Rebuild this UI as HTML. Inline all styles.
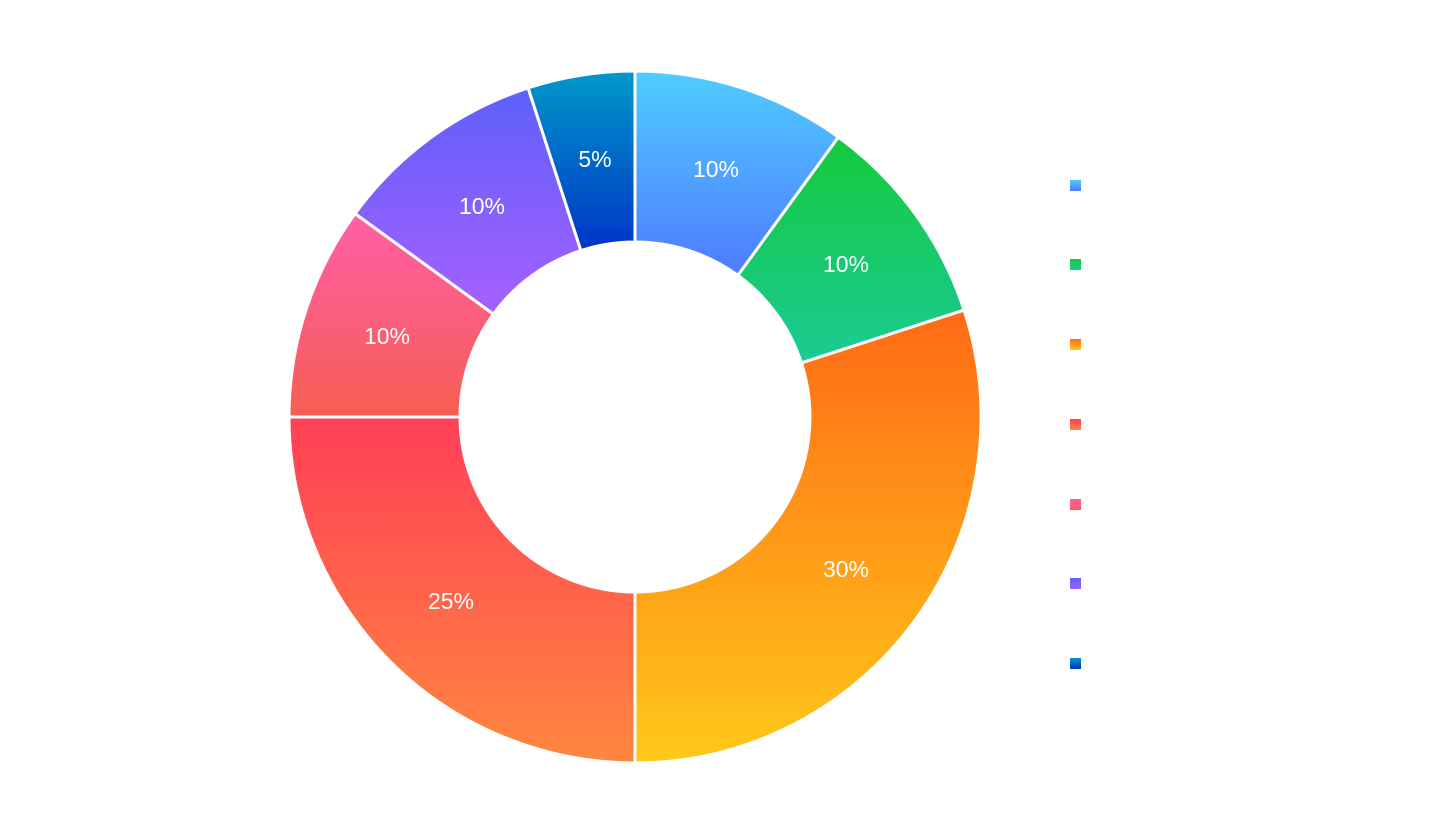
<!DOCTYPE html>
<html><head><meta charset="utf-8"><style>html,body{margin:0;padding:0;background:#fff;}svg{display:block}</style></head>
<body>
<svg width="1450" height="835" xmlns="http://www.w3.org/2000/svg">
<defs>
<linearGradient id="g1" x1="0" y1="0" x2="0" y2="1"><stop offset="0" stop-color="#4fcdff"/><stop offset="1" stop-color="#4f7aff"/></linearGradient>
<linearGradient id="g2" x1="0" y1="0" x2="0" y2="1"><stop offset="0" stop-color="#16c93c"/><stop offset="1" stop-color="#1acb95"/></linearGradient>
<linearGradient id="g3" x1="0" y1="0" x2="0" y2="1"><stop offset="0" stop-color="#ff6a16"/><stop offset="1" stop-color="#ffc81a"/></linearGradient>
<linearGradient id="g4" x1="0" y1="0" x2="0" y2="1"><stop offset="0" stop-color="#ff3f57"/><stop offset="1" stop-color="#ff873f"/></linearGradient>
<linearGradient id="g5" x1="0" y1="0" x2="0" y2="1"><stop offset="0" stop-color="#ff5fa8"/><stop offset="1" stop-color="#f65e52"/></linearGradient>
<linearGradient id="g6" x1="0" y1="0" x2="0" y2="1"><stop offset="0" stop-color="#5e60fa"/><stop offset="1" stop-color="#a660ff"/></linearGradient>
<linearGradient id="g7" x1="0" y1="0" x2="0" y2="1"><stop offset="0" stop-color="#0099c9"/><stop offset="1" stop-color="#0034c8"/></linearGradient>
</defs>
<g stroke="#fff" stroke-width="3" stroke-linejoin="round">
<path fill="url(#g1)" d="M635,71 A346,346 0 0 1 838.4,137.1 L737.9,275.4 A175,175 0 0 0 635,242 Z"/>
<path fill="url(#g2)" d="M838.4,137.1 A346,346 0 0 1 964.1,310.1 L801.4,362.9 A175,175 0 0 0 737.9,275.4 Z"/>
<path fill="url(#g3)" d="M964.1,310.1 A346,346 0 0 1 635,763 L635,592 A175,175 0 0 0 801.4,362.9 Z"/>
<path fill="url(#g4)" d="M635,763 A346,346 0 0 1 289,417 L460,417 A175,175 0 0 0 635,592 Z"/>
<path fill="url(#g5)" d="M289,417 A346,346 0 0 1 355.1,213.6 L493.4,314.1 A175,175 0 0 0 460,417 Z"/>
<path fill="url(#g6)" d="M355.1,213.6 A346,346 0 0 1 528.1,87.9 L580.9,250.6 A175,175 0 0 0 493.4,314.1 Z"/>
<path fill="url(#g7)" d="M528.1,87.9 A346,346 0 0 1 635,71 L635,242 A175,175 0 0 0 580.9,250.6 Z"/>
</g>
<g fill="#fff" font-family="Liberation Sans, sans-serif" font-size="23" text-anchor="middle" dominant-baseline="central">
<text x="716" y="169">10%</text>
<text x="846" y="264">10%</text>
<text x="846" y="569">30%</text>
<text x="451" y="601">25%</text>
<text x="387" y="336">10%</text>
<text x="482" y="206">10%</text>
<text x="595" y="159">5%</text>
</g>
<g>
<rect x="1070" y="180" width="11" height="11" fill="url(#g1)"/>
<rect x="1070" y="259" width="11" height="11" fill="url(#g2)"/>
<rect x="1070" y="339" width="11" height="11" fill="url(#g3)"/>
<rect x="1070" y="419" width="11" height="11" fill="url(#g4)"/>
<rect x="1070" y="499" width="11" height="11" fill="url(#g5)"/>
<rect x="1070" y="578" width="11" height="11" fill="url(#g6)"/>
<rect x="1070" y="658" width="11" height="11" fill="url(#g7)"/>
</g>
</svg>
</body></html>
